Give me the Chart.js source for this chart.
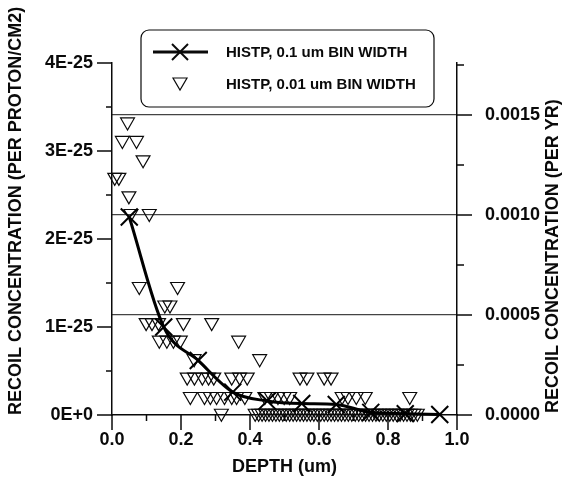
<!DOCTYPE html>
<html lang="en">
<head>
  <meta charset="UTF-8" />
  <title>Recoil concentration vs depth</title>
  <script src="https://cdn.jsdelivr.net/npm/chart.js"></script>
  <style>
    body { margin: 0; background: #fff; }
    .wrap { width: 570px; height: 480px; }
  </style>
</head>
<body>
  <div class="wrap"><canvas id="recoilChart"></canvas></div>

  <script>
    // 0.1 um bins (line with crosses), values in units of 1E-25 per proton/cm2
    const depthCoarse = [0.05, 0.15, 0.25, 0.35, 0.45, 0.55, 0.65, 0.75, 0.85, 0.95];
    const recoilCoarse = [2.25, 1.00, 0.62, 0.26, 0.16, 0.13, 0.12, 0.03, 0.015, 0.005];

    // 0.01 um bins (open triangles), same units
    const depthFine = [
      0.045,
      0.030, 0.071,
      0.090,
      0.008, 0.020,
      0.049,
      0.055, 0.108,
      0.079, 0.190,
      0.153, 0.168,
      0.099, 0.116, 0.135, 0.207, 0.289,
      0.137, 0.159, 0.178, 0.198, 0.367,
      0.238, 0.428,
      0.218, 0.239, 0.262, 0.280, 0.295, 0.347, 0.370, 0.392, 0.545, 0.565, 0.615, 0.635,
      0.227, 0.268, 0.285, 0.303, 0.326, 0.347, 0.361, 0.385, 0.443, 0.462, 0.481, 0.499, 0.515, 0.667, 0.684, 0.708, 0.734, 0.863,
      0.317, 0.415, 0.425, 0.435, 0.445, 0.455, 0.465, 0.475, 0.485, 0.495,
      0.505, 0.515, 0.525, 0.535, 0.545, 0.555, 0.565, 0.575, 0.585, 0.595,
      0.605, 0.615, 0.625, 0.635, 0.645, 0.655, 0.665, 0.675, 0.685, 0.695,
      0.705, 0.715, 0.725, 0.735, 0.745, 0.755, 0.765, 0.775, 0.785, 0.795,
      0.805, 0.815, 0.825, 0.835, 0.845, 0.855, 0.865, 0.875, 0.885
    ];
    const recoilFine = [
      3.33,
      3.12, 3.12,
      2.90,
      2.70, 2.70,
      2.49,
      2.29, 2.29,
      1.46, 1.46,
      1.25, 1.25,
      1.05, 1.05, 1.05, 1.05, 1.05,
      0.85, 0.85, 0.85, 0.85, 0.85,
      0.64, 0.64,
      0.43, 0.43, 0.43, 0.43, 0.43, 0.43, 0.43, 0.43, 0.43, 0.43, 0.43, 0.43,
      0.21, 0.21, 0.21, 0.21, 0.21, 0.21, 0.21, 0.21, 0.21, 0.21, 0.21, 0.21, 0.21, 0.21, 0.21, 0.21, 0.21, 0.21,
      0.02, 0.02, 0.02, 0.02, 0.02, 0.02, 0.02, 0.02, 0.02, 0.02,
      0.02, 0.02, 0.02, 0.02, 0.02, 0.02, 0.02, 0.02, 0.02, 0.02,
      0.02, 0.02, 0.02, 0.02, 0.02, 0.02, 0.02, 0.02, 0.02, 0.02,
      0.02, 0.02, 0.02, 0.02, 0.02, 0.02, 0.02, 0.02, 0.02, 0.02,
      0.02, 0.02, 0.02, 0.02, 0.02, 0.02, 0.02, 0.02, 0.02
    ];

    // tick values (major + minor interleaved, majors carry labels)
    const depthTicks = [0, 0.1, 0.2, 0.3, 0.4, 0.5, 0.6, 0.7, 0.8, 0.9, 1.0];
    const leftTicks = [0, 0.5, 1, 1.5, 2, 2.5, 3, 3.5, 4];
    const rightTicks = [0, 0.00025, 0.0005, 0.00075, 0.001, 0.00125, 0.0015, 0.00175];
    const rightGrid = [0.0005, 0.001, 0.0015];
    const rightMax = 0.00176;

    const INK = '#0a0a0a';
    const FONT = "'Liberation Sans', Arial, sans-serif";
    Chart.defaults.font.family = FONT;
    Chart.defaults.font.weight = 'bold';
    Chart.defaults.color = INK;

    const pointsOf = (xs, ys) => xs.map((x, i) => ({ x: x, y: ys[i] }));

    function line(ctx, x1, y1, x2, y2) {
      ctx.beginPath();
      ctx.moveTo(x1, y1);
      ctx.lineTo(x2, y2);
      ctx.stroke();
    }

    // tick marks (long major, short minor) + right title + legend box
    const decor = {
      id: 'decor',
      afterDraw(chart) {
        const { ctx } = chart;
        const { x, y, y2 } = chart.scales;
        const area = chart.chartArea;
        ctx.save();
        ctx.strokeStyle = INK;
        ctx.lineWidth = 1.5;

        depthTicks.forEach((v, i) => {
          const px = x.getPixelForValue(v);
          line(ctx, px, area.bottom, px, area.bottom + (i % 2 === 0 ? 15 : 6));
        });
        leftTicks.forEach((v, i) => {
          const py = y.getPixelForValue(v);
          line(ctx, area.left, py, area.left - (i % 2 === 0 ? 15 : 6), py);
        });
        rightTicks.forEach((v, i) => {
          const py = y2.getPixelForValue(v);
          line(ctx, area.right, py, area.right + (i % 2 === 0 ? 15 : 7), py);
        });

        // right axis title, reading bottom to top
        ctx.save();
        ctx.translate(553, area.bottom - 2);
        ctx.rotate(-Math.PI / 2);
        ctx.fillStyle = INK;
        ctx.font = 'bold 18px ' + FONT;
        ctx.textAlign = 'left';
        ctx.textBaseline = 'middle';
        ctx.fillText('RECOIL CONCENTRATION (PER YR)', 0, 0);
        ctx.restore();

        // legend
        const bx = 141, by = 30, bw = 293, bh = 77, r = 8;
        ctx.beginPath();
        ctx.roundRect(bx, by, bw, bh, r);
        ctx.fillStyle = '#fff';
        ctx.fill();
        ctx.lineWidth = 1.2;
        ctx.stroke();

        ctx.lineWidth = 3;
        line(ctx, 153, 52, 208, 52);
        ctx.lineWidth = 2;
        line(ctx, 172, 44, 188, 60);
        line(ctx, 172, 60, 188, 44);

        ctx.lineWidth = 1.2;
        ctx.beginPath();
        ctx.moveTo(173, 78);
        ctx.lineTo(187, 78);
        ctx.lineTo(180, 90);
        ctx.closePath();
        ctx.stroke();

        ctx.fillStyle = INK;
        ctx.font = 'bold 15px ' + FONT;
        ctx.textAlign = 'left';
        ctx.textBaseline = 'middle';
        ctx.fillText('HISTP, 0.1 um BIN WIDTH', 226, 53);
        ctx.fillText('HISTP, 0.01 um BIN WIDTH', 226, 85);
        ctx.restore();
      }
    };

    const ctx = document.getElementById('recoilChart').getContext('2d');
    const recoilChart = new Chart(ctx, {
      type: 'scatter',
      data: {
        datasets: [
          {
            label: 'HISTP, 0.1 um BIN WIDTH',
            data: pointsOf(depthCoarse, recoilCoarse),
            showLine: true,
            borderColor: '#000',
            borderWidth: 3,
            cubicInterpolationMode: 'monotone',
            pointStyle: 'crossRot',
            pointRadius: 12,
            pointBorderWidth: 2,
            pointBorderColor: '#000',
            clip: false
          },
          {
            label: 'HISTP, 0.01 um BIN WIDTH',
            data: pointsOf(depthFine, recoilFine),
            showLine: false,
            pointStyle: 'triangle',
            rotation: 180,
            pointRadius: 8,
            pointBorderWidth: 1.2,
            pointBorderColor: INK,
            pointBackgroundColor: 'rgba(0,0,0,0)',
            clip: false
          }
        ]
      },
      options: {
        responsive: true,
        maintainAspectRatio: false,
        animation: false,
        layout: { padding: { top: 63, left: 0, right: 0, bottom: 0 } },
        plugins: {
          legend: { display: false },
          tooltip: { enabled: false }
        },
        scales: {
          x: {
            type: 'linear',
            min: 0,
            max: 1,
            afterBuildTicks: s => { s.ticks = depthTicks.map(v => ({ value: v })); },
            afterFit: s => { s.height = 65; },
            ticks: {
              autoSkip: false,
              maxRotation: 0,
              padding: 14,
              font: { size: 18 },
              callback: (v, i) => (i % 2 === 0 ? v.toFixed(1) : '')
            },
            grid: { display: false, drawTicks: false },
            border: { display: true, color: INK, width: 1.5 },
            title: { display: true, text: 'DEPTH (um)', font: { size: 18 }, padding: { top: 0, bottom: 2 } }
          },
          y: {
            type: 'linear',
            position: 'left',
            min: 0,
            max: 4,
            afterBuildTicks: s => { s.ticks = leftTicks.map(v => ({ value: v })); },
            afterFit: s => { s.width = 112; },
            ticks: {
              autoSkip: false,
              padding: 19,
              font: { size: 18 },
              callback: (v, i) => (i % 2 !== 0 ? '' : (v === 0 ? '0E+0' : v + 'E-25'))
            },
            grid: { display: false, drawTicks: false },
            border: { display: true, color: INK, width: 1.5 },
            title: {
              display: true,
              text: 'RECOIL CONCENTRATION (PER PROTON/CM2)',
              align: 'start',
              font: { size: 18 },
              padding: { top: 5, bottom: 0 }
            }
          },
          y2: {
            type: 'linear',
            position: 'right',
            min: 0,
            max: rightMax,
            afterBuildTicks: s => { s.ticks = rightTicks.map(v => ({ value: v })); },
            afterFit: s => { s.width = 113; },
            ticks: {
              autoSkip: false,
              padding: 28,
              font: { size: 18 },
              callback: (v, i) => (i % 2 === 0 ? v.toFixed(4) : '')
            },
            grid: {
              display: true,
              drawTicks: false,
              lineWidth: 1.2,
              color: c => (c.tick && rightGrid.includes(c.tick.value) ? '#444' : 'rgba(0,0,0,0)')
            },
            border: { display: true, color: INK, width: 1.5 }
          }
        }
      },
      plugins: [decor]
    });
  </script>
</body>
</html>
